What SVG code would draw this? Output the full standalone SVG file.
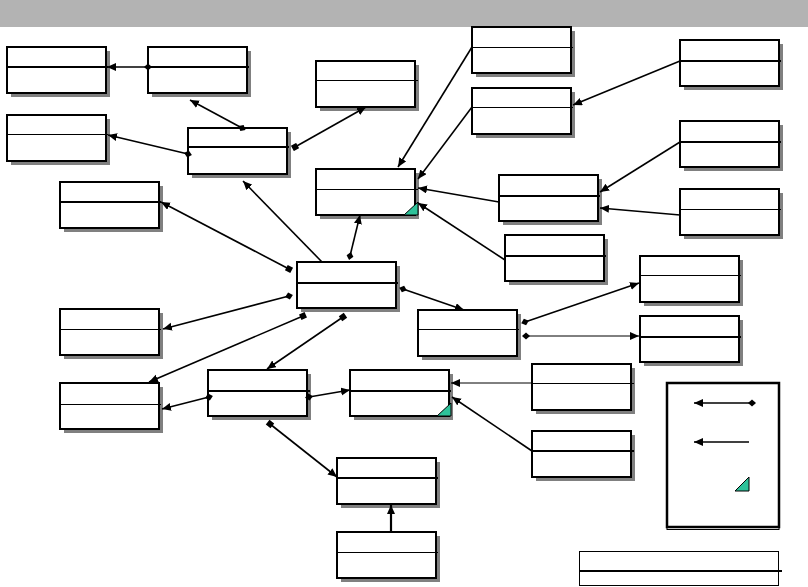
<svg xmlns="http://www.w3.org/2000/svg" width="808" height="587" viewBox="0 0 808 587">
<style>
.sh{fill:#808080;stroke:none}
.bx{fill:#fff;stroke:#000;stroke-width:2}
.dv{stroke:#000;stroke-width:1}
.dk{stroke:#000;stroke-width:2}
.c{fill:none;stroke:#000;stroke-width:1.6;marker-end:url(#ar)}
.thin{stroke-width:1}
.dm{marker-start:url(#dm)}
.sq{marker-start:url(#sq)}
.tri{fill:#2ec29a;stroke:#000;stroke-width:1}
</style>
<defs>
<marker id="ar" markerUnits="userSpaceOnUse" markerWidth="10" markerHeight="9" refX="9" refY="4" orient="auto" viewBox="0 0 10 9"><path d="M0,0 L9,4 L0,8 z" fill="#000"/></marker>
<marker id="dm" markerUnits="userSpaceOnUse" markerWidth="8" markerHeight="8" refX="4" refY="4" orient="auto" viewBox="0 0 8 8"><path d="M0,4 L4,0.5 L8,4 L4,7.5 z" fill="#000"/></marker>
<marker id="sq" markerUnits="userSpaceOnUse" markerWidth="7" markerHeight="7" refX="3.5" refY="3.5" orient="auto" viewBox="0 0 7 7"><rect x="0.5" y="0.5" width="6" height="6" fill="#000"/></marker>
<g id="box"><rect class="sh" x="4" y="4" width="99" height="46"/><rect class="bx" x="0" y="0" width="99" height="46"/></g>
</defs>
<rect x="0" y="0" width="808" height="27" fill="#b3b3b3"/>
<g id="nA"><use href="#box" x="7" y="47"/><line class="dk" x1="7" y1="67" x2="108" y2="67"/></g>
<g id="nB"><use href="#box" x="148" y="47"/><line class="dk" x1="148" y1="67" x2="249" y2="67"/></g>
<g id="nC"><use href="#box" x="7" y="115"/><line class="dv" x1="7" y1="134.5" x2="108" y2="134.5"/></g>
<g id="nD"><use href="#box" x="188" y="128"/><line class="dk" x1="188" y1="147" x2="289" y2="147"/></g>
<g id="nE"><use href="#box" x="316" y="61"/><line class="dv" x1="316" y1="80.5" x2="418" y2="80.5"/></g>
<g id="nF"><use href="#box" x="472" y="27"/><line class="dv" x1="472" y1="47.5" x2="573" y2="47.5"/></g>
<g id="nG"><use href="#box" x="472" y="88"/><line class="dv" x1="472" y1="107.5" x2="573" y2="107.5"/></g>
<g id="nH"><use href="#box" x="316" y="169"/><line class="dv" x1="316" y1="189.5" x2="418" y2="189.5"/><path class="tri" d="M418,202 L418,215 L404,215 z"/></g>
<g id="nI"><use href="#box" x="499" y="175"/><line class="dk" x1="499" y1="196" x2="600" y2="196"/></g>
<g id="nJ"><use href="#box" x="680" y="40"/><line class="dk" x1="680" y1="61" x2="781" y2="61"/></g>
<g id="nK"><use href="#box" x="680" y="121"/><line class="dk" x1="680" y1="142" x2="781" y2="142"/></g>
<g id="nL"><use href="#box" x="680" y="189"/><line class="dv" x1="680" y1="209.5" x2="781" y2="209.5"/></g>
<g id="nM"><use href="#box" x="505" y="235"/><line class="dk" x1="505" y1="256" x2="606" y2="256"/></g>
<g id="nN"><use href="#box" x="297" y="262"/><line class="dk" x1="297" y1="283" x2="398" y2="283"/></g>
<g id="nO"><use href="#box" x="418" y="310"/><line class="dv" x1="418" y1="329.5" x2="519" y2="329.5"/></g>
<g id="nP"><use href="#box" x="640" y="256"/><line class="dv" x1="640" y1="275.5" x2="741" y2="275.5"/></g>
<g id="nQ"><use href="#box" x="640" y="316"/><line class="dk" x1="640" y1="337" x2="741" y2="337"/></g>
<g id="nR"><use href="#box" x="532" y="364"/><line class="dv" x1="532" y1="383.5" x2="634" y2="383.5"/></g>
<g id="nS"><use href="#box" x="532" y="431"/><line class="dk" x1="532" y1="451" x2="634" y2="451"/></g>
<g id="nT"><use href="#box" x="60" y="182"/><line class="dk" x1="60" y1="202" x2="161" y2="202"/></g>
<g id="nU"><use href="#box" x="60" y="309"/><line class="dv" x1="60" y1="329.5" x2="161" y2="329.5"/></g>
<g id="nV"><use href="#box" x="60" y="383"/><line class="dv" x1="60" y1="404.5" x2="161" y2="404.5"/></g>
<g id="nW"><use href="#box" x="208" y="370"/><line class="dk" x1="208" y1="391" x2="310" y2="391"/></g>
<g id="nX"><use href="#box" x="350" y="370"/><line class="dk" x1="350" y1="391" x2="451" y2="391"/><path class="tri" d="M451,403 L451,416 L437,416 z"/></g>
<g id="nY"><use href="#box" x="337" y="458"/><line class="dk" x1="337" y1="478" x2="438" y2="478"/></g>
<g id="nZ"><use href="#box" x="337" y="532"/><line class="dv" x1="337" y1="552.5" x2="438" y2="552.5"/></g>
<g id="connectors">
<path class="c dm" d="M148,67 L107,67"/>
<path class="c dm" d="M242,128 L190,100"/>
<path class="c dm" d="M188,154 L108,135"/>
<path class="c sq" d="M295,147 L366,107"/>
<path class="c" d="M472,47 L398,167"/>
<path class="c" d="M472,107 L418,179"/>
<path class="c" d="M499,202 L418,188"/>
<path class="c" d="M505,260 L418,203"/>
<path class="c" d="M680,61 L573,105"/>
<path class="c" d="M680,142 L600,192"/>
<path class="c" d="M680,215 L600,208"/>
<path class="c dm" d="M350,256 L360,215"/>
<path class="c" d="M322,262 L243,181"/>
<path class="c sq" d="M289,269 L161,202"/>
<path class="c dm" d="M289,296 L163,329"/>
<path class="c sq" d="M303,316 L149,382"/>
<path class="c sq" d="M343,317 L267,369"/>
<path class="c dm" d="M403,289 L464,310"/>
<path class="c dm" d="M525,322 L639,283"/>
<path class="c dm thin" d="M526,336 L639,336"/>
<path class="c dm" d="M209,397 L162,409"/>
<path class="c dm" d="M309,397 L350,390"/>
<path class="c thin" d="M532,383 L451,383"/>
<path class="c" d="M532,451 L452,397"/>
<path class="c sq" d="M270,424 L337,477"/>
<path class="c" style="stroke-width:2.2" d="M391,532 L391,505"/>
</g>
<g id="legend">
<rect x="667" y="383" width="112" height="144" fill="#fff" stroke="#000" stroke-width="2.5"/>
<line x1="667" y1="529.5" x2="779" y2="529.5" stroke="#000" stroke-width="1"/>
<line x1="667" y1="527" x2="667" y2="530" stroke="#000" stroke-width="1"/>
<line x1="779" y1="527" x2="779" y2="530" stroke="#000" stroke-width="1"/>
<path class="c dm" d="M752,403 L694,403"/>
<path class="c" d="M749,442 L694,442"/>
<path class="tri" d="M749,477 L749,491 L735,491 z"/>
</g>
<g id="footer">
<rect x="579.5" y="551.5" width="199" height="34" fill="#fff" stroke="#000" stroke-width="1"/>
<line class="dk" x1="579" y1="571" x2="782" y2="571"/>
</g>
</svg>
